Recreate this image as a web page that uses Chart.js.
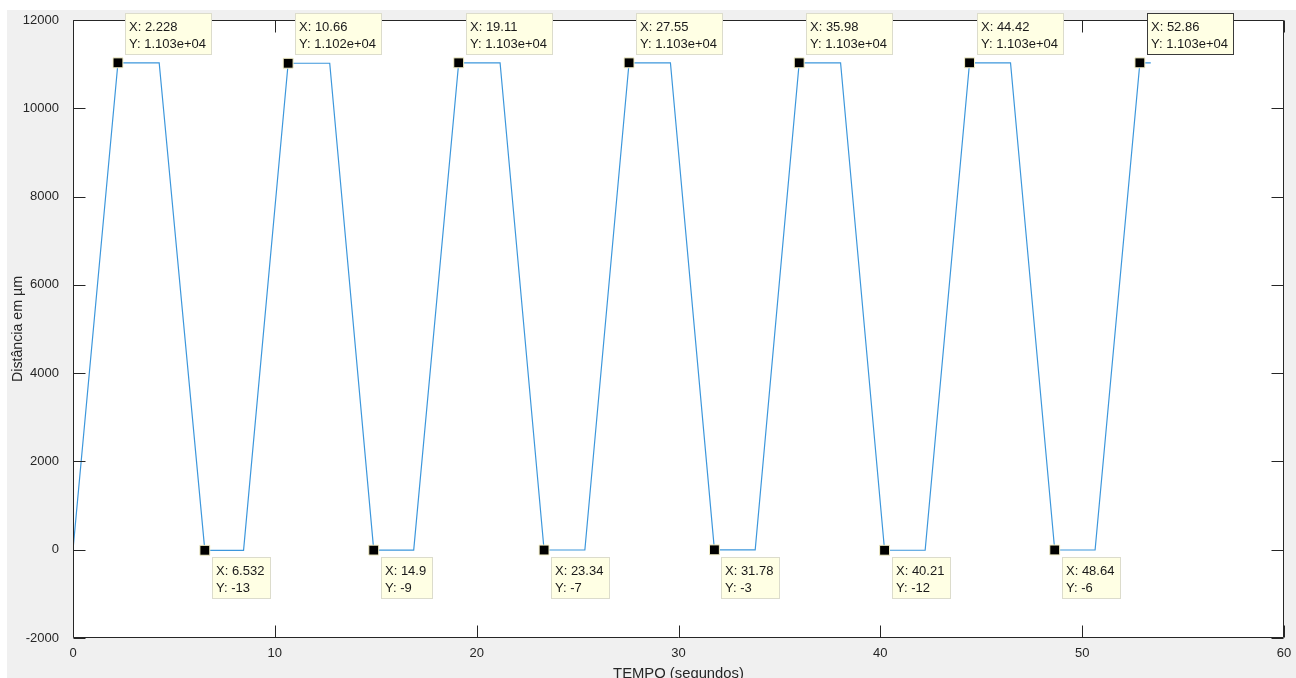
<!DOCTYPE html>
<html>
<head>
<meta charset="utf-8">
<script src="https://cdn.jsdelivr.net/npm/chart.js@4/dist/chart.umd.min.js"></script>
<style>
html, body { margin: 0; padding: 0; background: #fff; }
#wrap { width: 1296px; height: 678px; }
</style>
</head>
<body>
<div id="wrap"><canvas id="chart" width="1296" height="678"></canvas></div>
<script>
/* data */

var tempo = [0, 2.228, 4.27, 6.532, 8.45, 10.66, 12.72, 14.9, 16.88, 19.11, 21.16, 23.34, 25.36, 27.55, 29.6, 31.78, 33.8, 35.98, 38.03, 40.21, 42.22, 44.42, 46.45, 48.64, 50.64, 52.86, 53.4];
var distancia = [0, 11030, 11030, -13, -13, 11020, 11020, -9, -9, 11030, 11030, -7, -7, 11030, 11030, -3, -3, 11030, 11030, -12, -12, 11030, 11030, -6, -6, 11030, 11030];

var tipTempo = [2.228, 10.66, 19.11, 27.55, 35.98, 44.42, 52.86, 6.532, 14.9, 23.34, 31.78, 40.21, 48.64];
var tipDistancia = [11030, 11020, 11030, 11030, 11030, 11030, 11030, -13, -9, -7, -3, -12, -6];
var selectedTip = 6;

var xTicks = [0, 10, 20, 30, 40, 50, 60];
var yTicks = [-2000, 0, 2000, 4000, 6000, 8000, 10000, 12000];

var axisColor = '#262626';

var formatG4 = function(value) {
	if (Math.abs(value) >= 1e4) {
		var parts = value.toExponential(3).split('e');
		var exp = parseInt(parts[1]);
		var sign = exp < 0 ? '-' : '+';
		var digits = Math.abs(exp) < 10 ? '0' + Math.abs(exp) : '' + Math.abs(exp);
		return parts[0] + 'e' + sign + digits;
	}
	var text = value.toPrecision(4);
	if (text.indexOf('.') >= 0) {
		text = text.replace(/0+$/, '').replace(/\.$/, '');
	}
	return text;
};

var points = [];
for (var i = 0; i < tempo.length; i++) {
	points.push({ x: tempo[i], y: distancia[i] });
}

var tipPoints = [];
for (var i = 0; i < tipTempo.length; i++) {
	tipPoints.push({ x: tipTempo[i], y: tipDistancia[i] });
}

/* plugins */

var backgroundPlugin = {
	id: 'background',
	beforeDraw: function(chart) {
		var ctx = chart.ctx;
		var area = chart.chartArea;
		ctx.save();
		ctx.fillStyle = '#ffffff';
		ctx.fillRect(0, 0, chart.width, chart.height);
		ctx.fillStyle = '#f0f0f0';
		ctx.fillRect(7, 10, chart.width - 7, chart.height - 10);
		ctx.fillStyle = '#ffffff';
		ctx.fillRect(area.left, area.top, area.right - area.left, area.bottom - area.top);
		ctx.restore();
	}
};

var boxPlugin = {
	id: 'box',
	afterDatasetsDraw: function(chart) {
		var ctx = chart.ctx;
		var area = chart.chartArea;
		var xs = chart.scales.x;
		var ys = chart.scales.y;
		var tick = 12;
		var l = Math.round(area.left) + 0.5;
		var r = Math.round(area.right) - 0.5;
		var t = Math.round(area.top) + 0.5;
		var b = Math.round(area.bottom) - 0.5;
		ctx.save();
		ctx.strokeStyle = axisColor;
		ctx.lineWidth = 1;
		ctx.beginPath();
		ctx.rect(l, t, r - l, b - t);
		for (var i = 0; i < xTicks.length; i++) {
			var px = Math.round(xs.getPixelForValue(xTicks[i])) + 0.5;
			ctx.moveTo(px, b);
			ctx.lineTo(px, b - tick);
			ctx.moveTo(px, t);
			ctx.lineTo(px, t + tick);
		}
		for (var i = 0; i < yTicks.length; i++) {
			var py = Math.round(ys.getPixelForValue(yTicks[i])) + 0.5;
			ctx.moveTo(l, py);
			ctx.lineTo(l + tick, py);
			ctx.moveTo(r, py);
			ctx.lineTo(r - tick, py);
		}
		ctx.stroke();
		ctx.restore();
	}
};

var datatipPlugin = {
	id: 'datatips',
	afterDraw: function(chart) {
		var ctx = chart.ctx;
		var xs = chart.scales.x;
		var ys = chart.scales.y;
		ctx.save();
		ctx.font = '13px "Liberation Sans", Arial, sans-serif';
		ctx.textBaseline = 'middle';
		ctx.textAlign = 'left';
		for (var i = 0; i < tipTempo.length; i++) {
			var px = xs.getPixelForValue(tipTempo[i]);
			var py = ys.getPixelForValue(tipDistancia[i]);
			var line1 = 'X: ' + formatG4(tipTempo[i]);
			var line2 = 'Y: ' + formatG4(tipDistancia[i]);
			var w = Math.ceil(Math.max(ctx.measureText(line1).width, ctx.measureText(line2).width)) + 10;
			var h = 42;
			var bx = Math.round(px) + 7;
			var by = tipDistancia[i] > 5000 ? Math.round(py) - 50 : Math.round(py) + 7;
			ctx.fillStyle = '#ffffe4';
			ctx.fillRect(bx, by, w, h);
			ctx.strokeStyle = i == selectedTip ? '#3a3a3a' : '#dcdccc';
			ctx.lineWidth = 1;
			ctx.strokeRect(bx + 0.5, by + 0.5, w - 1, h - 1);
			ctx.fillStyle = '#1a1a1a';
			ctx.fillText(line1, bx + 4, by + 14);
			ctx.fillText(line2, bx + 4, by + 31);
		}
		ctx.restore();
	}
};

/* chart */

Chart.defaults.font.family = '"Liberation Sans", Arial, sans-serif';
Chart.defaults.font.size = 13;
Chart.defaults.color = axisColor;

var context = document.getElementById('chart').getContext('2d');
var chart = new Chart(context, {
	type: 'scatter',
	data: {
		datasets: [
			{ label: 'datatips', data: tipPoints, showLine: false, pointStyle: 'rect', pointRadius: 7, pointBackgroundColor: '#000000', pointBorderColor: '#f4f0c8', pointBorderWidth: 1 },
			{ label: 'distancia', data: points, showLine: true, fill: false, tension: 0, borderColor: '#3d97dc', borderWidth: 1.2, pointRadius: 0 }
		]
	},
	options: {
		responsive: false,
		animation: false,
		events: [],
		layout: { padding: { top: 20, right: 12, left: 0, bottom: 0 } },
		plugins: { legend: { display: false }, tooltip: { enabled: false } },
		scales: {
			x: {
				type: 'linear', min: 0, max: 60,
				grid: { display: false },
				border: { display: false },
				afterBuildTicks: function(scale) { scale.ticks = xTicks.map(function(v) { return { value: v }; }); },
				afterFit: function(scale) { scale.height = 40; scale.paddingLeft = 0; scale.paddingRight = 0; },
				ticks: { padding: 0, maxRotation: 0, callback: function(value) { return String(value); } },
				title: { display: true, text: 'TEMPO (segundos)', font: { size: 14.8 }, padding: { top: 0, bottom: -5 } }
			},
			y: {
				type: 'linear', min: -2000, max: 12000,
				grid: { display: false },
				border: { display: false },
				afterBuildTicks: function(scale) { scale.ticks = yTicks.map(function(v) { return { value: v }; }); },
				afterFit: function(scale) { scale.width = 73; scale.paddingTop = 0; scale.paddingBottom = 0; },
				ticks: { padding: 6, callback: function(value) { return String(value); } },
				title: { display: true, text: 'Distância em µm', font: { size: 14.2 }, padding: { top: 10, bottom: 0 } }
			}
		}
	},
	plugins: [backgroundPlugin, boxPlugin, datatipPlugin]
});
</script>
</body>
</html>
